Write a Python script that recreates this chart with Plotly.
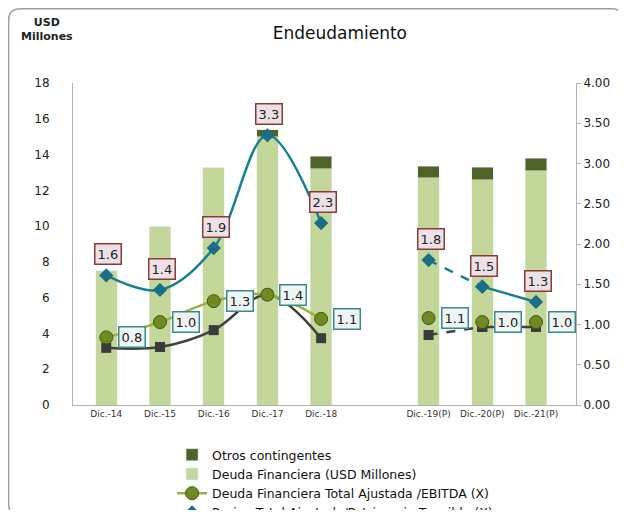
import plotly.graph_objects as go

categories = ["Dic.-14", "Dic.-15", "Dic.-16", "Dic.-17", "Dic.-18", " ",
              "Dic.-19(P)", "Dic.-20(P)", "Dic.-21(P)"]
deuda_financiera = [7.5, 10.0, 13.3, 15.0, 13.2, None, 12.7, 12.6, 13.1]
otros_contingentes = [0.0, 0.0, 0.0, 0.4, 0.7, None, 0.65, 0.7, 0.7]
deuda_ebitda = [0.84, 1.03, 1.29, 1.37, 1.07, None, 1.08, 1.03, 1.03]
deuda_ebitda_labels = ["0.8", "1.0", "1.3", "1.4", "1.1", None, "1.1", "1.0", "1.0"]
pasivo_patrimonio = [1.61, 1.43, 1.95, 3.35, 2.26, None, 1.80, 1.47, 1.28]
pasivo_labels = ["1.6", "1.4", "1.9", "3.3", "2.3", None, "1.8", "1.5", "1.3"]
serie_cuadrados = [0.71, 0.72, 0.93, 1.37, 0.83, None, 0.87, 0.97, 0.97]

hist = slice(0, 5)
FONT = "DejaVu Sans"
LIGHT = "#c4d79b"
DARK = "#4f6228"
TEAL = "#16808c"
OLIVE = "#9bb040"
GREY = "#404040"

fig = go.Figure()

fig.add_trace(go.Bar(x=categories, y=deuda_financiera, name="Deuda Financiera (USD Millones)",
                     marker_color=LIGHT, width=0.4, legendrank=2))
fig.add_trace(go.Bar(x=categories, y=otros_contingentes, name="Otros contingentes",
                     marker_color=DARK, width=0.4, legendrank=1))

sq_marker = dict(symbol="square", size=10, color="#3a3a3a")
fig.add_trace(go.Scatter(x=categories[hist], y=serie_cuadrados[hist], yaxis="y2", mode="lines+markers",
                         line=dict(color=GREY, width=2.5, shape="spline"),
                         marker=sq_marker, showlegend=False))
fig.add_trace(go.Scatter(x=categories[6:8], y=serie_cuadrados[6:8], yaxis="y2", mode="lines+markers",
                         line=dict(color=GREY, width=2.5, dash="dash"),
                         marker=sq_marker, showlegend=False))
fig.add_trace(go.Scatter(x=categories[7:9], y=serie_cuadrados[7:9], yaxis="y2", mode="lines+markers",
                         line=dict(color=GREY, width=2.5),
                         marker=sq_marker, showlegend=False))

ball = dict(symbol="circle", size=13, color="#6f8a22", line=dict(color="#3f5a10", width=1))
fig.add_trace(go.Scatter(x=categories[hist], y=deuda_ebitda[hist], yaxis="y2", mode="lines+markers",
                         name="Deuda Financiera Total Ajustada /EBITDA (X)",
                         line=dict(color=OLIVE, width=2.5, shape="spline"),
                         marker=ball, legendrank=3))
fig.add_trace(go.Scatter(x=categories[6:9], y=deuda_ebitda[6:9], yaxis="y2", mode="markers",
                         marker=ball, showlegend=False))

dia = dict(symbol="diamond", size=11, color="#1a6f86")
fig.add_trace(go.Scatter(x=categories[hist], y=pasivo_patrimonio[hist], yaxis="y2", mode="lines+markers",
                         name="Pasivo Total Ajustado/Patrimonio Tangible (X)",
                         line=dict(color=TEAL, width=2.5, shape="spline"),
                         marker=dia, legendrank=4))
fig.add_trace(go.Scatter(x=categories[6:8], y=pasivo_patrimonio[6:8], yaxis="y2", mode="lines+markers",
                         line=dict(color=TEAL, width=2.5, dash="dash"),
                         marker=dia, showlegend=False))
fig.add_trace(go.Scatter(x=categories[7:9], y=pasivo_patrimonio[7:9], yaxis="y2", mode="lines+markers",
                         line=dict(color=TEAL, width=2.5),
                         marker=dia, showlegend=False))

annotations = []
for c, v, t in zip(categories, pasivo_patrimonio, pasivo_labels):
    if t is None:
        continue
    annotations.append(dict(x=c, y=v, xref="x", yref="y2", text=t, showarrow=False,
                            yshift=21, xshift=2, font=dict(family=FONT, size=13, color="#222"),
                            bgcolor="#ece2e6", bordercolor="#8a3a3a", borderwidth=1.5, borderpad=2))
for c, v, t in zip(categories, deuda_ebitda, deuda_ebitda_labels):
    if t is None:
        continue
    annotations.append(dict(x=c, y=v, xref="x", yref="y2", text=t, showarrow=False,
                            xshift=26, yshift=0, font=dict(family=FONT, size=13, color="#222"),
                            bgcolor="#eef5f3", bordercolor="#3a8a8a", borderwidth=1.5, borderpad=2))

annotations.append(dict(x=-0.052, y=1.215, xref="paper", yref="paper", text="<b>USD<br>Millones</b>",
                        showarrow=False, xanchor="center", yanchor="top", align="center",
                        font=dict(family=FONT, size=11, color="#222")))

# rounded frame
x0, x1, y0, y1 = -0.128, 1.093, -0.342, 1.2306
rx, ry = 0.022, 0.034
frame = (f"M {x0+rx},{y1} L {x1-rx},{y1} Q {x1},{y1} {x1},{y1-ry} "
         f"L {x1},{y0+ry} Q {x1},{y0} {x1-rx},{y0} L {x0+rx},{y0} Q {x0},{y0} {x0},{y0+ry} "
         f"L {x0},{y1-ry} Q {x0},{y1} {x0+rx},{y1} Z")

fig.update_layout(
    width=618, height=502,
    margin=dict(l=65, r=50, t=75, b=105, autoexpand=False),
    paper_bgcolor="white", plot_bgcolor="white",
    barmode="stack",
    title=dict(text="Endeudamiento", x=0.537, xanchor="center", y=0.95, yanchor="middle",
               font=dict(family=FONT, size=17, color="#111")),
    font=dict(family=FONT, size=11, color="#222"),
    xaxis=dict(type="category", categoryorder="array", categoryarray=categories,
               showline=True, linecolor="#b0b0b0", linewidth=1, ticks="",
               tickfont=dict(family=FONT, size=9, color="#333"), showgrid=False),
    yaxis=dict(range=[0, 18], dtick=2, showline=True, linecolor="#b0b0b0", showgrid=False,
               zeroline=False, ticks="", ticklabelstandoff=20,
               tickfont=dict(family=FONT, size=12, color="#222")),
    yaxis2=dict(range=[0, 4], dtick=0.5, tickformat=".2f", overlaying="y", side="right",
                showline=True, linecolor="#b0b0b0", showgrid=False, zeroline=False,
                ticks="outside", ticklen=4, tickcolor="#b0b0b0",
                tickfont=dict(family=FONT, size=12, color="#222")),
    legend=dict(x=0.197, y=-0.109, xanchor="left", yanchor="top", orientation="v",
                font=dict(family=FONT, size=12.5, color="#111"), itemwidth=30,
                traceorder="normal", bgcolor="rgba(0,0,0,0)"),
    annotations=annotations,
    shapes=[dict(type="path", xref="paper", yref="paper", path=frame,
                 line=dict(color="#a0a0a0", width=1.5))],
)

fig.write_html("out.html")
